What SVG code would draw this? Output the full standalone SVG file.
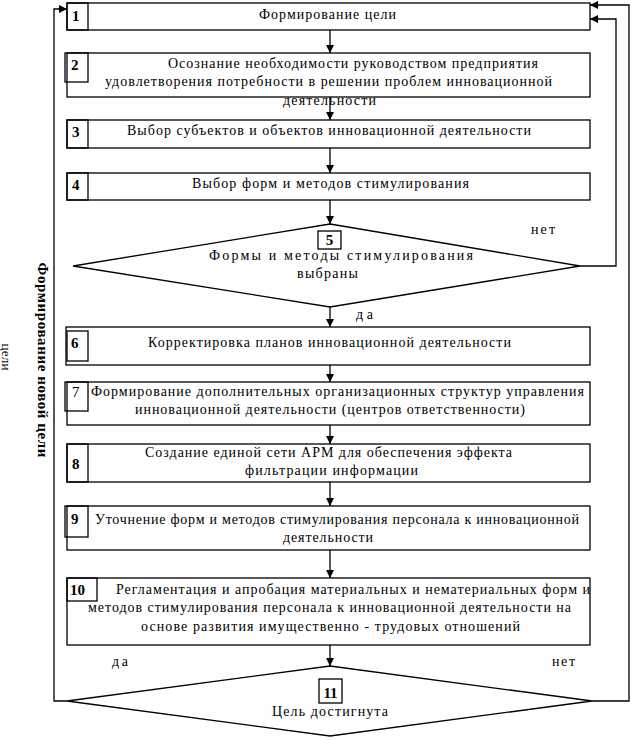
<svg xmlns="http://www.w3.org/2000/svg" width="631" height="740" viewBox="0 0 631 740">
<defs>
<marker id="ah" viewBox="0 0 8 8" refX="8" refY="4" markerWidth="8" markerHeight="8" markerUnits="userSpaceOnUse" orient="auto">
<path d="M0,0 L8,4 L0,8 Z" fill="#000"/>
</marker>
</defs>
<style>
.b{fill:#fff;stroke:#000;stroke-width:1.3}
.c{fill:none;stroke:#000;stroke-width:1.3}
.t{font-family:'Liberation Serif','DejaVu Serif',serif;font-size:14px;fill:#000}
.n{font-family:'Liberation Serif','DejaVu Serif',serif;font-size:15px;font-weight:bold;fill:#000}
.m{text-anchor:middle}
.l{fill:none;stroke:#000;stroke-width:1.3;marker-end:url(#ah)}
</style>
<rect width="631" height="740" fill="#fff"/>
<g id="connectors">
<path class="l" d="M330,30 V53"/>
<path class="l" d="M330,97 V120"/>
<path class="l" d="M330,148 V173"/>
<path class="l" d="M330,200 V224"/>
<path class="l" d="M580,266 H616 V19 H590"/>
<path class="l" d="M330,307 V327"/>
<path class="l" d="M330,365 V382"/>
<path class="l" d="M330,425 V444"/>
<path class="l" d="M330,482 V506"/>
<path class="l" d="M330,550 V578"/>
<path class="l" d="M330,645 V666"/>
<path class="l" d="M592,701 H629 V5 H590"/>
<path class="l" d="M67,701 H54 V9 H67"/>
<text class="t" x="531" y="234" textLength="24">нет</text>
<text class="t" x="356" y="319" textLength="17">да</text>
<text class="t" x="112" y="666" textLength="16">да</text>
<text class="t" x="552" y="666" textLength="23">нет</text>
<text class="n" transform="translate(38,360) rotate(90)" text-anchor="middle" textLength="195">Формирование новой цели</text>
<text class="t" style="font-size:13px" transform="translate(2,357) rotate(90)" text-anchor="middle" textLength="27">цели</text>
</g>
<g id="n1">
<rect class="b" x="67" y="3" width="523" height="27"/>
<rect class="c" x="67" y="3" width="21" height="27"/>
<text class="n" x="72" y="21">1</text>
<text class="t" x="259" y="19" textLength="137">Формирование цели</text>
</g>
<g id="n2">
<rect class="b" x="67" y="53" width="523" height="44"/>
<rect class="c" x="65" y="53" width="23" height="29"/>
<text class="n" x="71" y="70">2</text>
<text class="t" x="168" y="68" textLength="370">Осознание необходимости руководством предприятия</text>
<text class="t" x="105" y="86" textLength="447">удовлетворения потребности в решении проблем инновационной</text>
<text class="t" x="283" y="105" textLength="93">деятельности</text>
</g>
<g id="n3">
<rect class="b" x="67" y="120" width="523" height="28"/>
<rect class="c" x="67" y="120" width="21" height="28"/>
<text class="n" x="72" y="137">3</text>
<text class="t" x="127" y="135" textLength="404">Выбор субъектов и объектов инновационной деятельности</text>
</g>
<g id="n4">
<rect class="b" x="67" y="173" width="523" height="27"/>
<rect class="c" x="67" y="173" width="21" height="27"/>
<text class="n" x="72" y="190">4</text>
<text class="t" x="192" y="188" textLength="277">Выбор форм и методов стимулирования</text>
</g>
<g id="n5">
<path class="b" d="M330,224 L580,266 L330,307 L73,266 Z"/>
<rect class="c" x="318" y="231" width="23" height="18"/>
<text class="n m" x="329.5" y="245">5</text>
<text class="t" x="209" y="260" textLength="264">Формы и методы стимулирования</text>
<text class="t" x="297" y="278" textLength="61">выбраны</text>
</g>
<g id="n6">
<rect class="b" x="66" y="327" width="524" height="38"/>
<rect class="c" x="67" y="331" width="21" height="30"/>
<text class="n" x="71" y="348">6</text>
<text class="t" x="148" y="347" textLength="363">Корректировка планов инновационной деятельности</text>
</g>
<g id="n7">
<rect class="b" x="67" y="382" width="523" height="43"/>
<rect class="c" x="65" y="382" width="23" height="29"/>
<text class="t" x="72" y="397" style="font-size:15px">7</text>
<text class="t" x="91" y="396" textLength="493">Формирование дополнительных организационных структур управления</text>
<text class="t" x="135" y="414" textLength="390">инновационной деятельности (центров ответственности)</text>
</g>
<g id="n8">
<rect class="b" x="67" y="444" width="523" height="38"/>
<rect class="c" x="67" y="444" width="21" height="38"/>
<text class="n" x="72" y="469">8</text>
<text class="t" x="145" y="457" textLength="367">Создание единой сети АРМ для обеспечения эффекта</text>
<text class="t" x="245" y="475" textLength="173">фильтрации информации</text>
</g>
<g id="n9">
<rect class="b" x="67" y="506" width="523" height="44"/>
<rect class="c" x="65" y="506" width="23" height="31"/>
<text class="n" x="71" y="524">9</text>
<text class="t" x="95" y="524" textLength="484">Уточнение форм и методов стимулирования персонала к инновационной</text>
<text class="t" x="283" y="542" textLength="90">деятельности</text>
</g>
<g id="n10">
<rect class="b" x="67" y="578" width="523" height="67"/>
<rect class="c" x="67" y="578" width="30" height="23"/>
<text class="n" x="70" y="595">10</text>
<text class="t" x="116" y="594" textLength="474">Регламентация и апробация материальных и нематериальных форм и</text>
<text class="t" x="88" y="612" textLength="483">методов стимулирования персонала к инновационной деятельности на</text>
<text class="t" x="141" y="631" textLength="379">основе развития имущественно - трудовых отношений</text>
</g>
<g id="n11">
<path class="b" d="M330,666 L592,701 L330,736 L67,701 Z"/>
<rect class="c" x="319" y="679" width="23" height="24"/>
<text class="n m" x="330.5" y="698">11</text>
<text class="t" x="272" y="716" textLength="116">Цель достигнута</text>
</g>
</svg>
